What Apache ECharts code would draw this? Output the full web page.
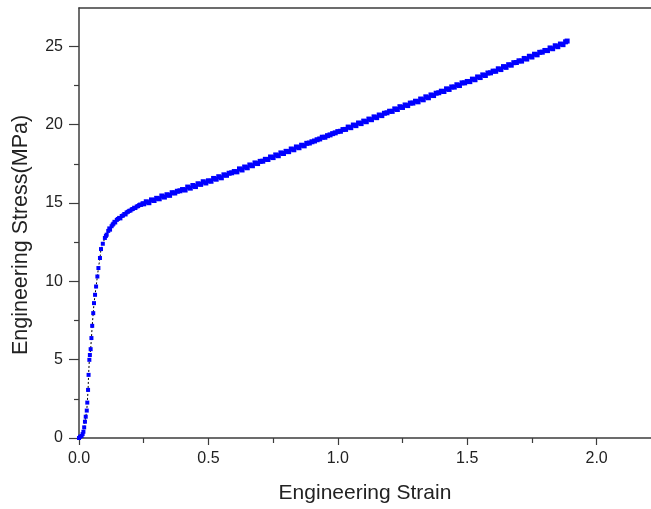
<!DOCTYPE html>
<html>
<head>
<meta charset="utf-8">
<script src="https://cdn.jsdelivr.net/npm/echarts@6/dist/echarts.min.js"></script>
<style>
  html, body { margin: 0; padding: 0; background: #ffffff; }
  #chart { width: 651px; height: 509px; }
</style>
</head>
<body>
<div id="chart"></div>
<script>
// ---- Data ----
// Elastic / yielding part (sparse points)
var loadingStrain = [0.000, 0.004, 0.010, 0.014, 0.017, 0.020, 0.023, 0.026, 0.030, 0.032,
  0.035, 0.037, 0.040, 0.042, 0.045, 0.048, 0.051, 0.055, 0.058, 0.062,
  0.066, 0.071, 0.075, 0.081, 0.085, 0.092, 0.100, 0.104, 0.107, 0.113,
  0.117, 0.120, 0.126, 0.130, 0.133, 0.137, 0.140, 0.146, 0.150, 0.155,
  0.160, 0.165, 0.170, 0.175, 0.180, 0.184, 0.189, 0.194, 0.199, 0.204,
  0.208, 0.213, 0.218, 0.223, 0.228, 0.232, 0.236, 0.240, 0.245];
var loadingStress = [0.00, 0.08, 0.13, 0.25, 0.40, 0.68, 1.04, 1.36, 1.75, 2.26,
  3.07, 4.03, 4.99, 5.30, 5.67, 6.38, 7.16, 7.97, 8.61, 9.14,
  9.67, 10.31, 10.85, 11.49, 12.06, 12.40, 12.77, 12.90, 12.98, 13.22,
  13.38, 13.30, 13.52, 13.62, 13.68, 13.80, 13.76, 13.92, 13.98, 14.05,
  14.02, 14.17, 14.20, 14.30, 14.27, 14.40, 14.44, 14.50, 14.52, 14.60,
  14.62, 14.70, 14.68, 14.78, 14.80, 14.86, 14.90, 14.88, 14.97];
// Strain-hardening part (dense points)
var hardeningStrain = [0.25, 0.26, 0.27, 0.28, 0.29, 0.30, 0.31, 0.32, 0.33, 0.34,
  0.35, 0.36, 0.37, 0.38, 0.39, 0.40, 0.41, 0.42, 0.43, 0.44,
  0.45, 0.46, 0.47, 0.48, 0.49, 0.50, 0.51, 0.52, 0.53, 0.54,
  0.55, 0.56, 0.57, 0.58, 0.59, 0.60, 0.61, 0.62, 0.63, 0.64,
  0.65, 0.66, 0.67, 0.68, 0.69, 0.70, 0.71, 0.72, 0.73, 0.74,
  0.75, 0.76, 0.77, 0.78, 0.79, 0.80, 0.81, 0.82, 0.83, 0.84,
  0.85, 0.86, 0.87, 0.88, 0.89, 0.90, 0.91, 0.92, 0.93, 0.94,
  0.95, 0.96, 0.97, 0.98, 0.99, 1.00, 1.01, 1.02, 1.03, 1.04,
  1.05, 1.06, 1.07, 1.08, 1.09, 1.10, 1.11, 1.12, 1.13, 1.14,
  1.15, 1.16, 1.17, 1.18, 1.19, 1.20, 1.21, 1.22, 1.23, 1.24,
  1.25, 1.26, 1.27, 1.28, 1.29, 1.30, 1.31, 1.32, 1.33, 1.34,
  1.35, 1.36, 1.37, 1.38, 1.39, 1.40, 1.41, 1.42, 1.43, 1.44,
  1.45, 1.46, 1.47, 1.48, 1.49, 1.50, 1.51, 1.52, 1.53, 1.54,
  1.55, 1.56, 1.57, 1.58, 1.59, 1.60, 1.61, 1.62, 1.63, 1.64,
  1.65, 1.66, 1.67, 1.68, 1.69, 1.70, 1.71, 1.72, 1.73, 1.74,
  1.75, 1.76, 1.77, 1.78, 1.79, 1.80, 1.81, 1.82, 1.83, 1.84,
  1.85, 1.86, 1.87, 1.88, 1.886];
var hardeningStress = [14.95, 15.08, 15.02, 15.20, 15.16, 15.30, 15.27, 15.45, 15.38, 15.53,
  15.49, 15.66, 15.64, 15.75, 15.78, 15.86, 15.83, 16.02, 15.95, 16.12,
  16.05, 16.23, 16.19, 16.36, 16.28, 16.42, 16.39, 16.57, 16.52, 16.68,
  16.61, 16.80, 16.77, 16.90, 16.93, 17.01, 16.99, 17.18, 17.11, 17.30,
  17.25, 17.43, 17.38, 17.56, 17.52, 17.66, 17.67, 17.79, 17.78, 17.94,
  17.90, 18.07, 18.02, 18.20, 18.16, 18.30, 18.28, 18.45, 18.40, 18.58,
  18.53, 18.69, 18.65, 18.81, 18.83, 18.91, 18.96, 19.04, 19.09, 19.20,
  19.20, 19.30, 19.35, 19.43, 19.48, 19.56, 19.58, 19.69, 19.70, 19.85,
  19.81, 19.98, 19.94, 20.11, 20.07, 20.23, 20.19, 20.36, 20.32, 20.50,
  20.45, 20.62, 20.58, 20.73, 20.76, 20.86, 20.85, 21.01, 20.97, 21.15,
  21.10, 21.26, 21.22, 21.38, 21.38, 21.50, 21.46, 21.64, 21.59, 21.78,
  21.72, 21.90, 21.86, 22.01, 22.04, 22.14, 22.12, 22.29, 22.25, 22.41,
  22.40, 22.55, 22.50, 22.67, 22.67, 22.76, 22.75, 22.91, 22.87, 23.05,
  23.01, 23.18, 23.14, 23.30, 23.31, 23.42, 23.41, 23.57, 23.52, 23.71,
  23.66, 23.83, 23.80, 23.96, 23.97, 24.08, 24.06, 24.23, 24.19, 24.37,
  24.32, 24.50, 24.46, 24.62, 24.63, 24.74, 24.73, 24.90, 24.85, 25.04,
  24.98, 25.15, 25.11, 25.29, 25.34];

var xTicks = [0, 0.5, 1.0, 1.5, 2.0];
var yTicks = [0, 5, 10, 15, 20, 25];
var xTitle = 'Engineering Strain';
var yTitle = 'Engineering Stress(MPa)';

// ---- Build series data ----
var loadingPoints = loadingStrain.map(function (x, i) { return [x, loadingStress[i]]; });
var hardeningPoints = hardeningStrain.map(function (x, i) { return [x, hardeningStress[i]]; });
var allPoints = loadingPoints.concat(hardeningPoints);

var fontFam = '"Liberation Sans", Arial, sans-serif';
var axisColor = '#3c3c3c';
var textColor = '#222222';

var chart = echarts.init(document.getElementById('chart'), null, { renderer: 'canvas' });
chart.setOption({
  animation: false,
  backgroundColor: '#ffffff',
  grid: { left: 79, right: 0, top: 8, bottom: 71, containLabel: false },
  xAxis: [{
    type: 'value',
    min: 0, max: 2.21, interval: 0.5,
    position: 'bottom',
    name: xTitle,
    nameLocation: 'middle',
    nameGap: 45,
    nameTextStyle: { fontFamily: fontFam, fontSize: 21, color: textColor },
    axisLine: { show: true, lineStyle: { color: axisColor, width: 1.5 } },
    axisTick: { show: true, length: 7, customValues: xTicks, lineStyle: { color: axisColor, width: 1.2 } },
    minorTick: { show: true, splitNumber: 2, length: 5, lineStyle: { color: axisColor, width: 1.2 } },
    splitLine: { show: false },
    axisLabel: {
      margin: 13, fontFamily: fontFam, fontSize: 16, color: textColor,
      customValues: xTicks,
      formatter: function (v) { return xTicks.indexOf(v) >= 0 ? v.toFixed(1) : ''; }
    }
  }, {
    type: 'value',
    min: 0, max: 2.21,
    position: 'top',
    axisLine: { show: true, onZero: false, lineStyle: { color: axisColor, width: 1.5 } },
    axisTick: { show: false },
    axisLabel: { show: false },
    splitLine: { show: false }
  }],
  yAxis: {
    type: 'value',
    min: 0, max: 27.45, interval: 5,
    name: yTitle,
    nameLocation: 'middle',
    nameGap: 47,
    nameTextStyle: { fontFamily: fontFam, fontSize: 21.5, color: textColor, padding: [0, 24, 0, 0] },
    axisLine: { show: true, lineStyle: { color: axisColor, width: 1.5 } },
    axisTick: { show: true, length: 10, customValues: yTicks, lineStyle: { color: axisColor, width: 1.2 } },
    minorTick: { show: true, splitNumber: 2, length: 5, lineStyle: { color: axisColor, width: 1.2 } },
    splitLine: { show: false },
    axisLabel: {
      margin: 16, fontFamily: fontFam, fontSize: 16, color: textColor,
      customValues: yTicks,
      formatter: function (v) { return yTicks.indexOf(v) >= 0 ? String(v) : ''; }
    }
  },
  series: [{
    type: 'line',
    xAxisIndex: 0,
    data: allPoints,
    showSymbol: false,
    symbol: 'none',
    lineStyle: { color: '#000000', width: 1, type: [2, 2] },
    z: 2
  }, {
    type: 'scatter',
    xAxisIndex: 0,
    data: loadingPoints,
    symbol: 'rect',
    symbolSize: 4,
    itemStyle: { color: '#0000ff', opacity: 1 },
    z: 3
  }, {
    type: 'scatter',
    xAxisIndex: 0,
    data: hardeningPoints,
    symbol: 'rect',
    symbolSize: 5,
    itemStyle: { color: '#0000ff', opacity: 1 },
    z: 3
  }]
});
</script>
</body>
</html>
